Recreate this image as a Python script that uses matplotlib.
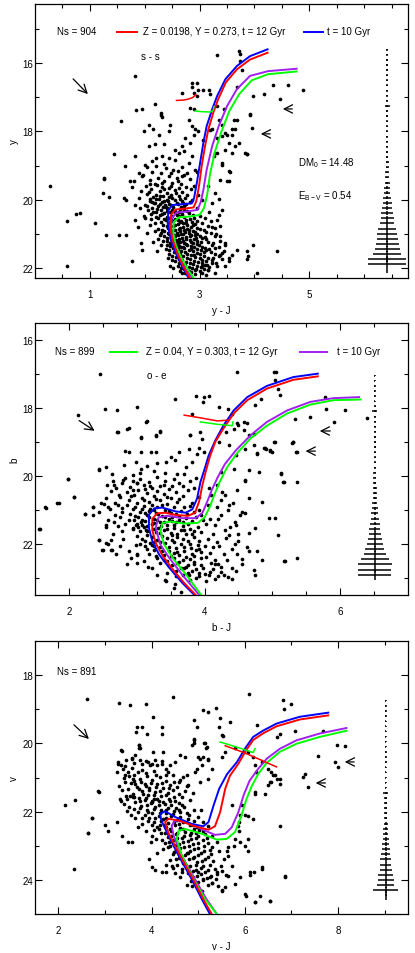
import numpy as np
import matplotlib
matplotlib.use("Agg")
import matplotlib.pyplot as plt

plt.rcParams['font.family'] = ['Liberation Sans', 'DejaVu Sans']
plt.rcParams['mathtext.default'] = 'regular'

# ---------------- panel 1 : y vs y-J ----------------
p1_field = [
    (0.27, 19.59), (0.59, 20.62), (0.74, 20.42), (0.82, 20.39), (1.10, 20.69), (1.25, 19.39), (1.24, 19.80),
    (1.35, 19.93), (1.30, 21.03), (1.53, 21.03), (1.65, 21.03), (1.44, 18.66), (1.56, 17.68), (1.64, 19.02),
    (1.77, 21.81), (0.58, 21.96), (1.62, 19.95), (1.65, 20.00), (1.73, 19.44), (1.80, 19.44), (1.77, 19.63),
    (1.83, 20.15), (1.83, 20.59), (1.89, 19.21), (1.95, 19.31), (1.94, 21.27), (1.95, 21.47), (1.99, 17.99),
    (2.07, 17.82), (2.16, 17.94), (2.26, 18.09), (2.30, 17.53), (2.47, 17.82), (2.45, 17.99), (2.07, 18.43),
    (2.19, 18.38), (2.35, 18.38), (2.32, 18.72), (2.13, 18.87), (1.83, 18.72), (2.01, 18.97), (2.44, 18.77),
    (2.56, 18.53), (2.62, 18.63), (2.68, 18.43), (2.80, 17.65), (2.86, 17.84), (2.83, 18.33), (2.92, 17.94),
    (2.89, 18.09), (2.98, 17.99), (2.74, 18.19), (2.71, 18.58), (2.86, 18.72), (2.80, 18.92), (2.92, 19.12),
    (2.77, 19.21), (2.68, 19.31), (3.23, 17.94), (3.32, 18.19), (3.41, 18.14), (3.50, 18.09), (3.59, 17.94),
    (3.65, 17.94), (3.53, 18.33), (3.62, 17.67), (3.71, 18.33), (3.92, 17.53), (3.95, 17.89), (3.82, 18.63),
    (3.59, 18.63), (3.47, 18.53), (3.29, 18.63), (3.41, 18.92), (3.53, 19.17), (3.38, 19.41), (3.50, 19.46),
    (3.16, 19.61), (3.29, 19.80), (3.23, 20.10), (3.35, 19.99), (3.41, 20.29), (3.32, 20.59), (3.38, 20.78),
    (3.29, 21.08), (3.47, 21.32), (3.41, 21.57), (3.59, 21.62), (3.68, 21.47), (3.86, 21.52), (3.98, 21.32),
    (3.89, 21.66), (4.41, 21.52), (4.04, 22.16), (3.53, 21.81), (3.47, 21.96), (3.16, 22.06), (3.29, 22.16),
    (3.04, 21.96), (2.92, 22.06), (2.50, 21.76), (2.47, 21.96), (2.68, 22.16), (3.13, 21.91), (3.35, 21.66),
    (3.23, 21.76), (1.82, 16.37), (1.85, 17.37), (1.95, 17.33), (2.19, 17.19), (2.29, 17.45), (2.32, 17.57),
    (2.68, 16.86), (2.86, 16.71), (2.95, 16.57), (2.86, 16.57), (2.89, 16.86), (2.98, 16.77), (2.95, 16.96),
    (2.82, 17.30), (2.89, 17.35), (3.07, 16.79), (3.18, 16.78), (3.19, 16.91), (3.32, 15.76), (3.72, 15.64),
    (3.73, 15.74), (3.74, 15.93), (3.77, 16.20), (3.68, 16.69), (3.98, 16.96), (4.18, 16.89), (4.33, 16.65),
    (4.47, 17.04), (4.62, 16.65), (4.89, 16.78), (3.92, 17.50), (3.68, 17.65), (3.59, 18.09), (3.47, 18.04),
    (3.26, 18.73), (3.07, 18.24), (3.19, 17.95), (3.35, 17.65), (3.41, 17.80), (3.44, 17.35), (3.32, 17.25),
    (3.86, 18.65), (3.65, 18.43), (3.53, 19.44), (3.56, 19.18), (3.41, 18.97), (3.31, 18.63), (3.86, 18.67),
    (3.86, 21.73), (3.53, 21.70), (3.38, 21.62), (3.47, 21.27), (3.38, 21.08), (3.29, 20.84), (1.26, 19.38),
]
p1_core = [
    (2.05, 19.05), (2.21, 19.02), (2.38, 19.08), (2.52, 19.12), (2.14, 19.18), (2.30, 19.22), (2.61, 19.15),
    (1.97, 19.27), (2.45, 19.30), (2.72, 19.28), (2.24, 19.36), (2.58, 19.38), (2.09, 19.42), (2.36, 19.45),
    (2.83, 19.40), (2.50, 19.50), (2.18, 19.53), (2.66, 19.55), (2.02, 19.60), (2.31, 19.62), (2.44, 19.66),
    (2.76, 19.63), (2.12, 19.70), (2.55, 19.72), (2.27, 19.76), (2.68, 19.78), (2.40, 19.80), (1.93, 19.74),
    (2.85, 19.70), (2.20, 19.85), (2.05, 19.83), (2.33, 19.88), (2.48, 19.86), (2.62, 19.90), (2.15, 19.93),
    (2.74, 19.95), (2.26, 19.97), (2.40, 20.00), (2.55, 20.02), (2.09, 20.04), (2.68, 20.05), (2.32, 20.08),
    (2.82, 20.07), (2.19, 20.11), (2.45, 20.12), (2.60, 20.14), (2.00, 20.15), (2.37, 20.17), (2.25, 20.20),
    (2.72, 20.19), (2.52, 20.22), (2.13, 20.24), (2.41, 20.26), (2.64, 20.27), (2.30, 20.30), (2.06, 20.31),
    (2.56, 20.33), (2.20, 20.35), (2.78, 20.34), (2.46, 20.37), (2.35, 20.40), (2.68, 20.41), (2.12, 20.43),
    (2.58, 20.45), (2.28, 20.46), (2.50, 20.48), (2.88, 20.44), (2.40, 20.50), (1.98, 20.47), (2.72, 20.52),
    (2.17, 20.09), (2.50, 19.96), (2.87, 20.00), (2.28, 19.90), (2.62, 20.36), (2.43, 20.05), (2.95, 20.25),
    (2.10, 19.97), (2.34, 20.22), (2.70, 20.11), (2.25, 20.55), (2.55, 20.56), (2.82, 20.58), (2.38, 20.60),
    (2.67, 20.62), (2.96, 20.63), (2.47, 20.66), (2.18, 20.68), (2.75, 20.69), (3.05, 20.70), (2.60, 20.72),
    (2.33, 20.74), (2.88, 20.75), (2.52, 20.78), (3.15, 20.77), (2.70, 20.80), (2.42, 20.82), (2.95, 20.83),
    (2.24, 20.85), (2.62, 20.86), (2.80, 20.88), (3.08, 20.90), (2.50, 20.91), (2.36, 20.93), (2.73, 20.95),
    (2.92, 20.96), (2.58, 20.98), (3.20, 20.99), (2.45, 21.01), (2.66, 21.02), (2.84, 21.04), (2.28, 21.05),
    (3.00, 21.06), (2.55, 21.08), (2.76, 21.10), (2.40, 21.12), (2.93, 21.13), (2.63, 21.15), (3.12, 21.16),
    (2.50, 21.18), (2.82, 21.19), (2.70, 21.21), (2.34, 21.22), (3.03, 21.23), (2.58, 21.25), (2.88, 21.27),
    (2.46, 21.28), (2.75, 21.30), (3.25, 21.26), (2.64, 20.65), (2.44, 20.71), (2.86, 20.67), (2.71, 20.90),
    (2.53, 21.05), (2.95, 21.00), (2.60, 21.28), (2.30, 20.97), (2.78, 20.74), (3.10, 21.10), (2.48, 20.58),
    (2.40, 21.33), (2.62, 21.35), (2.85, 21.36), (3.05, 21.38), (2.52, 21.41), (2.72, 21.43), (2.95, 21.44),
    (3.18, 21.46), (2.45, 21.49), (2.66, 21.51), (2.88, 21.52), (3.08, 21.55), (2.58, 21.57), (2.78, 21.59),
    (3.00, 21.61), (3.28, 21.60), (2.50, 21.64), (2.70, 21.66), (2.92, 21.68), (3.15, 21.70), (2.62, 21.73),
    (2.83, 21.74), (3.05, 21.77), (2.55, 21.80), (2.75, 21.82), (2.97, 21.84), (3.22, 21.85), (2.68, 21.88),
    (2.88, 21.90), (3.10, 21.92), (2.60, 21.95), (2.80, 21.97), (3.02, 21.99), (2.72, 22.03), (2.93, 22.05),
    (3.15, 22.06), (2.65, 22.10), (2.85, 22.12), (3.05, 22.15), (2.77, 22.18), (3.35, 21.40), (3.40, 21.75),
    (2.42, 21.70), (2.99, 21.34), (3.12, 21.48), (2.80, 21.47), (3.32, 21.95), (2.52, 22.00), (2.90, 21.62),
    (2.70, 21.40), (2.22, 19.58), (2.48, 19.60), (2.63, 19.67), (2.35, 19.70), (2.08, 19.78), (2.57, 19.82),
    (2.78, 19.85), (2.44, 19.92), (2.20, 19.99), (2.65, 19.99), (2.36, 20.03), (2.13, 20.06), (2.58, 20.09),
    (2.27, 20.13), (2.76, 20.13), (2.48, 20.15), (2.04, 20.19), (2.66, 20.21), (2.38, 20.23), (2.22, 20.28),
    (2.49, 20.29), (2.71, 20.30), (2.15, 20.37), (2.40, 20.33), (2.55, 20.40), (2.32, 20.43), (2.80, 20.40),
    (2.63, 20.48), (2.20, 20.50), (2.45, 20.53), (2.35, 20.57), (2.60, 20.59), (2.90, 20.55), (2.75, 20.60),
    (2.52, 20.64), (2.30, 20.65), (2.70, 20.68), (2.92, 20.72), (2.56, 20.75), (2.40, 20.78), (2.84, 20.80),
    (2.65, 20.82), (3.00, 20.85), (2.47, 20.86), (2.77, 20.87), (2.55, 20.89), (2.32, 20.89), (2.88, 20.92),
    (2.64, 20.93), (3.12, 20.95), (2.42, 20.97), (2.80, 20.99), (2.50, 21.00), (2.70, 21.00), (2.92, 21.03),
    (2.60, 21.05), (2.36, 21.08), (2.82, 21.08), (3.05, 21.12), (2.68, 21.12), (2.48, 21.14), (2.90, 21.16),
    (2.57, 21.18), (2.76, 21.17), (2.40, 21.20), (2.96, 21.20), (2.65, 21.23), (2.84, 21.24), (3.15, 21.25),
    (2.52, 21.26), (2.72, 21.27), (2.95, 21.30), (2.57, 21.32), (2.78, 21.32), (3.22, 21.33), (2.47, 21.37),
    (2.67, 21.38), (2.90, 21.39), (3.10, 21.41), (2.60, 21.44), (2.84, 21.45), (3.03, 21.47), (2.53, 21.53),
    (2.73, 21.54), (2.95, 21.56), (3.20, 21.53), (2.64, 21.61), (2.85, 21.63), (3.08, 21.64), (2.57, 21.69),
    (2.77, 21.70), (3.00, 21.72), (3.25, 21.72), (2.68, 21.77), (2.90, 21.79), (3.12, 21.80), (2.62, 21.86),
    (2.82, 21.86), (3.05, 21.87), (2.74, 21.93), (2.95, 21.95), (3.18, 21.97), (2.67, 22.00), (2.87, 22.02),
    (3.08, 22.03), (2.80, 22.08), (3.00, 22.10), (2.73, 22.14), (2.92, 22.18), (3.12, 22.20), (2.58, 21.52),
    (2.45, 21.60), (3.28, 21.42), (3.38, 21.22), (3.45, 21.50), (3.30, 21.85), (2.38, 21.45), (2.30, 21.32),
    (2.25, 21.15), (2.18, 20.92), (2.10, 20.75), (2.12, 20.58), (1.92, 20.25), (1.90, 19.95), (2.00, 20.55),
    (1.88, 20.80), (2.05, 20.98), (2.15, 21.25), (2.22, 21.50), (3.00, 20.48), (3.10, 20.55), (3.20, 20.62),
    (3.22, 20.80), (3.30, 21.00), (3.35, 20.45), (3.18, 20.35), (2.98, 19.85), (3.05, 20.00), (2.90, 19.60),
    (2.95, 19.20), (2.60, 19.45), (2.32, 19.50), (2.10, 19.55), (2.48, 19.22), (2.68, 19.05), (2.35, 18.95),
    (2.20, 18.78), (2.55, 18.85),
]
p1_blue = [(4.24, 15.59), (3.92, 15.79), (3.68, 16.08), (3.47, 16.47), (3.32, 16.96), (3.23, 17.35),
           (3.13, 17.84), (3.07, 18.33), (3.01, 18.92), (2.95, 19.51), (2.90, 19.95), (2.86, 20.11),
           (2.65, 20.14), (2.50, 20.16), (2.43, 20.32), (2.42, 20.70), (2.47, 21.15), (2.56, 21.55),
           (2.68, 21.95), (2.80, 22.30)]
p1_red = [(4.24, 15.69), (3.92, 15.89), (3.68, 16.18), (3.48, 16.56), (3.34, 17.05), (3.25, 17.45),
          (3.16, 17.94), (3.10, 18.43), (3.04, 19.00), (2.99, 19.60), (2.94, 20.05), (2.89, 20.23),
          (2.70, 20.27), (2.56, 20.29), (2.48, 20.44), (2.46, 20.80), (2.51, 21.20), (2.60, 21.60),
          (2.71, 21.98), (2.82, 22.30)]
p1_purple = [(4.77, 16.16), (4.25, 16.23), (3.92, 16.37), (3.68, 16.76), (3.50, 17.26), (3.35, 17.84),
             (3.23, 18.43), (3.13, 19.12), (3.07, 19.71), (3.02, 20.08), (2.96, 20.30), (2.77, 20.35),
             (2.58, 20.38), (2.49, 20.55), (2.48, 20.95), (2.53, 21.30), (2.63, 21.70), (2.75, 22.05),
             (2.86, 22.30)]
p1_green = [(4.77, 16.24), (4.25, 16.32), (3.95, 16.50), (3.72, 16.91), (3.54, 17.41), (3.40, 18.00),
            (3.28, 18.59), (3.19, 19.26), (3.14, 19.85), (3.08, 20.25), (3.00, 20.45), (2.80, 20.50),
            (2.62, 20.52), (2.53, 20.66), (2.52, 20.98), (2.57, 21.35), (2.67, 21.72), (2.79, 22.05),
            (2.89, 22.30)]
p1_hb_red = [(2.58, 17.09), (2.70, 17.08), (2.80, 17.05), (2.88, 17.00), (2.93, 16.92)]
p1_hb_green = [(2.92, 17.40), (3.05, 17.42), (3.20, 17.43), (3.25, 17.38), (3.26, 17.28)]
# (mag, colour error, mag error)
p1_err = [(15.60, 0.012, 0.02), (15.75, 0.012, 0.02), (15.90, 0.012, 0.02), (16.05, 0.012, 0.02),
          (16.20, 0.012, 0.02), (16.35, 0.012, 0.02), (16.50, 0.012, 0.02), (16.65, 0.012, 0.02),
          (16.80, 0.012, 0.02), (16.95, 0.012, 0.02), (17.10, 0.015, 0.02), (17.25, 0.045, 0.03),
          (17.40, 0.015, 0.02), (17.55, 0.015, 0.02), (17.70, 0.015, 0.02), (17.85, 0.018, 0.02),
          (18.00, 0.018, 0.02), (18.15, 0.018, 0.02), (18.30, 0.020, 0.02), (18.45, 0.020, 0.02),
          (18.60, 0.022, 0.02), (18.75, 0.024, 0.02), (18.90, 0.026, 0.02), (19.05, 0.028, 0.02),
          (19.20, 0.032, 0.02), (19.35, 0.040, 0.025), (19.50, 0.045, 0.03), (19.65, 0.050, 0.035),
          (19.80, 0.060, 0.04), (19.95, 0.070, 0.045), (20.10, 0.080, 0.05), (20.25, 0.095, 0.055),
          (20.40, 0.105, 0.06), (20.55, 0.120, 0.065), (20.70, 0.130, 0.07), (20.85, 0.160, 0.075),
          (21.00, 0.180, 0.08), (21.15, 0.190, 0.08), (21.30, 0.210, 0.08), (21.45, 0.230, 0.08),
          (21.60, 0.250, 0.08), (21.75, 0.350, 0.08), (21.90, 0.350, 0.25)]

# ---------------- panel 2 : b vs b-J ----------------
p2_field = [
    (1.98, 20.10), (2.08, 20.63), (1.83, 20.80), (1.66, 20.93), (1.56, 21.56), (2.23, 21.12), (2.36, 20.90),
    (2.44, 19.81), (2.54, 19.73), (2.64, 19.93), (2.56, 20.27), (2.67, 20.27), (2.71, 18.71), (2.83, 19.25),
    (2.89, 19.29), (2.81, 19.68), (2.80, 20.12), (2.86, 18.61), (3.13, 18.42), (3.06, 18.86), (3.06, 19.29),
    (3.21, 19.29), (3.28, 19.29), (3.28, 18.81), (3.34, 18.69), (3.78, 18.79), (3.94, 18.71), (3.96, 18.90),
    (3.77, 19.20), (3.89, 19.34), (3.82, 19.59), (3.72, 19.73), (3.62, 19.29), (3.57, 19.54), (3.50, 19.44),
    (3.43, 19.59), (3.70, 19.93), (3.87, 20.07), (2.99, 19.59), (3.06, 19.78), (2.94, 19.98), (3.01, 20.22),
    (2.74, 20.56), (2.72, 20.85), (2.79, 21.05), (2.47, 20.80), (2.52, 20.83), (2.57, 20.90), (2.45, 21.05),
    (2.35, 21.14), (2.54, 21.44), (2.67, 21.34), (2.96, 21.29), (2.99, 21.44), (3.08, 21.44), (2.94, 21.53),
    (3.13, 21.58), (2.45, 21.87), (2.54, 21.97), (2.64, 22.17), (2.49, 22.17), (3.01, 22.31), (2.99, 22.02),
    (3.11, 22.51), (3.52, 21.73), (3.23, 22.02), (4.21, 19.00), (4.31, 18.71), (4.43, 18.61), (4.50, 18.51),
    (4.58, 18.42), (4.36, 19.10), (4.46, 19.39), (4.60, 19.20), (4.73, 18.76), (4.77, 19.34), (4.65, 19.83),
    (4.80, 19.88), (4.60, 20.12), (4.43, 19.78), (4.24, 19.88), (4.19, 20.27), (4.06, 20.36), (4.26, 20.46),
    (4.36, 20.85), (4.65, 20.66), (4.85, 20.75), (5.02, 19.00), (4.90, 19.20), (4.97, 19.25), (5.12, 19.93),
    (5.17, 20.17), (5.29, 19.02), (5.36, 20.17), (4.53, 21.14), (4.46, 21.44), (4.36, 21.73), (4.65, 21.68),
    (4.75, 21.53), (4.95, 21.24), (5.04, 21.24), (5.09, 21.73), (4.65, 22.22), (4.77, 22.22), (4.85, 22.46),
    (4.55, 22.60), (4.46, 22.80), (4.73, 22.75), (4.75, 22.90), (4.28, 22.90), (4.41, 23.04), (4.33, 22.46),
    (5.19, 22.51), (4.16, 22.60), (4.06, 22.90), (3.92, 22.85), (3.77, 22.90), (3.70, 22.70), (3.57, 23.19),
    (3.43, 23.09), (3.65, 23.40), (2.46, 16.99), (2.53, 18.02), (2.71, 18.07), (3.00, 17.97), (2.14, 18.21),
    (3.15, 18.39), (2.89, 18.60), (2.72, 18.70), (3.06, 18.88), (3.28, 18.80), (3.35, 18.70), (3.57, 17.73),
    (3.88, 17.65), (3.99, 17.69), (4.06, 17.65), (3.98, 17.82), (3.82, 18.18), (3.79, 18.80), (3.92, 19.19),
    (3.99, 19.30), (4.21, 17.97), (4.35, 18.02), (4.40, 18.19), (4.48, 16.93), (4.48, 18.43), (4.58, 18.65),
    (4.63, 18.43), (4.65, 18.80), (4.73, 19.09), (4.83, 17.73), (4.75, 17.92), (5.02, 16.93), (5.06, 16.93),
    (5.04, 17.19), (5.09, 17.43), (5.11, 17.63), (4.87, 19.19), (4.97, 19.24), (5.04, 19.00), (5.34, 18.31),
    (5.56, 18.26), (5.78, 17.68), (5.91, 18.41), (5.79, 18.02), (6.07, 18.05), (5.31, 19.00), (5.36, 19.29),
    (6.39, 18.29), (1.58, 21.55), (1.65, 20.92), (1.85, 20.80), (1.98, 20.08), (2.08, 20.62), (2.23, 21.11),
    (2.35, 20.91), (2.44, 19.80), (2.45, 21.87), (2.50, 22.19), (2.57, 22.00), (2.62, 22.19), (3.00, 22.30),
    (3.01, 22.55), (3.16, 22.69), (3.55, 23.28), (5.17, 22.50), (5.36, 22.42), (5.12, 19.92), (5.16, 20.17),
    (4.59, 20.14), (4.48, 20.41), (4.78, 19.33), (4.89, 19.19), (5.00, 19.29), (5.30, 18.99), (5.35, 19.29),
]
p2_core = [
    (2.82, 20.05), (3.05, 20.08), (3.30, 20.03), (3.55, 20.10), (2.95, 20.15), (3.18, 20.18), (3.42, 20.14),
    (2.78, 20.22), (3.10, 20.25), (3.35, 20.28), (3.62, 20.22), (2.90, 20.32), (3.22, 20.34), (3.48, 20.37),
    (3.02, 20.41), (3.30, 20.44), (2.85, 20.47), (3.58, 20.46), (3.15, 20.50), (3.40, 20.53), (2.96, 20.57),
    (3.25, 20.60), (3.68, 20.58), (3.08, 20.64), (3.50, 20.66), (2.88, 20.70), (3.34, 20.72), (3.18, 20.77),
    (3.60, 20.76), (3.00, 20.80), (3.44, 20.82), (2.75, 20.62), (3.75, 20.40), (3.12, 20.38), (2.70, 20.35),
    (2.85, 20.86), (3.10, 20.88), (3.30, 20.90), (3.55, 20.92), (3.78, 20.87), (2.95, 20.96), (3.20, 20.98),
    (3.42, 21.00), (3.66, 21.02), (3.05, 21.05), (3.28, 21.08), (3.50, 21.10), (3.85, 21.06), (2.90, 21.12),
    (3.15, 21.15), (3.38, 21.17), (3.62, 21.19), (3.95, 21.16), (3.02, 21.22), (3.25, 21.25), (3.47, 21.27),
    (3.72, 21.24), (2.88, 21.30), (3.12, 21.32), (3.35, 21.34), (3.58, 21.36), (3.82, 21.33), (3.00, 21.40),
    (3.22, 21.42), (3.45, 21.44), (3.68, 21.46), (4.02, 21.42), (3.10, 21.50), (3.32, 21.52), (3.55, 21.54),
    (3.78, 21.56), (2.95, 21.57), (3.40, 21.60), (3.62, 21.28), (3.18, 21.03), (3.52, 21.21), (3.36, 21.47),
    (3.90, 21.50), (3.06, 21.36), (3.74, 21.12), (3.05, 21.63), (3.28, 21.65), (3.50, 21.67), (3.72, 21.70),
    (3.95, 21.66), (3.15, 21.74), (3.38, 21.76), (3.60, 21.78), (3.85, 21.80), (3.08, 21.85), (3.30, 21.87),
    (3.52, 21.89), (3.75, 21.91), (4.05, 21.86), (3.20, 21.96), (3.42, 21.98), (3.65, 22.00), (3.90, 22.02),
    (3.12, 22.07), (3.35, 22.09), (3.58, 22.11), (3.80, 22.13), (4.12, 22.08), (3.25, 22.18), (3.48, 22.20),
    (3.70, 22.22), (3.95, 22.24), (3.18, 22.29), (3.40, 22.31), (3.62, 22.33), (3.85, 22.35), (3.30, 22.40),
    (3.55, 22.42), (3.78, 22.44), (4.02, 22.38), (3.45, 22.50), (3.68, 22.48), (3.92, 22.15), (3.25, 21.93),
    (3.70, 21.60), (4.18, 21.95), (3.55, 22.27), (3.35, 22.55), (3.60, 22.57), (3.85, 22.59), (4.10, 22.55),
    (3.48, 22.65), (3.72, 22.67), (3.98, 22.70), (4.25, 22.68), (3.58, 22.78), (3.82, 22.80), (4.08, 22.82),
    (3.68, 22.92), (3.92, 22.95), (4.20, 22.93), (3.78, 23.05), (4.02, 23.08), (4.35, 22.98), (3.45, 22.85),
    (4.10, 20.55), (4.25, 20.70), (4.35, 21.00), (4.20, 21.25), (4.45, 21.35), (4.30, 21.60), (4.50, 21.90),
    (4.15, 21.45), (4.40, 22.15), (4.28, 22.30), (4.55, 22.45), (4.05, 20.85), (4.60, 21.10), (4.32, 21.82),
    (2.62, 20.45), (2.55, 20.65), (2.60, 20.98), (2.68, 21.15), (2.58, 21.30), (2.72, 21.48), (2.65, 21.70),
    (2.80, 21.85), (2.75, 22.05), (2.88, 22.20), (2.92, 22.42), (2.78, 21.62), (2.82, 21.40), (2.75, 21.20),
    (2.78, 20.95), (2.68, 20.80), (2.92, 20.60), (3.00, 20.22), (3.20, 20.30), (3.40, 20.25), (3.52, 20.30),
    (3.28, 20.68), (3.10, 20.72), (3.45, 20.62), (3.62, 20.68), (3.70, 20.92), (3.22, 20.85), (3.38, 20.85),
    (2.98, 20.90), (3.08, 20.98), (3.25, 21.00), (3.48, 21.04), (3.58, 21.12), (3.12, 21.10), (3.32, 21.13),
    (2.98, 21.18), (3.42, 21.22), (3.18, 21.20), (3.68, 21.35), (3.30, 21.28), (3.52, 21.32), (3.08, 21.28),
    (3.25, 21.38), (3.40, 21.36), (3.15, 21.46), (3.55, 21.45), (3.75, 21.42), (3.02, 21.50), (3.25, 21.55),
    (3.45, 21.55), (3.65, 21.58), (3.85, 21.62), (3.15, 21.62), (3.35, 21.68), (3.60, 21.70), (3.82, 21.72),
    (3.00, 21.75), (3.22, 21.80), (3.45, 21.82), (3.68, 21.85), (3.92, 21.90), (3.12, 21.92), (3.35, 21.95),
    (3.55, 21.95), (3.78, 22.00), (4.00, 22.05), (3.05, 22.00), (3.25, 22.05), (3.48, 22.08), (3.70, 22.10),
    (3.88, 22.18), (3.15, 22.15), (3.38, 22.22), (3.60, 22.24), (3.82, 22.28), (4.08, 22.25), (3.28, 22.34),
    (3.50, 22.36), (3.72, 22.38), (3.95, 22.42), (3.40, 22.46), (3.62, 22.52), (3.85, 22.52), (4.15, 22.48),
    (3.52, 22.62), (3.75, 22.62), (3.95, 22.62), (4.20, 22.58), (3.65, 22.72), (3.88, 22.74), (4.12, 22.74),
    (3.75, 22.85), (4.00, 22.88), (4.25, 22.82), (3.88, 23.00), (4.15, 23.02), (3.58, 22.95), (4.40, 22.70),
    (4.48, 22.30), (4.45, 22.00), (4.38, 21.50), (4.25, 21.15), (4.18, 20.90), (4.30, 20.55), (4.42, 20.80),
    (4.55, 21.05), (4.50, 21.70), (4.62, 22.10), (4.22, 22.05), (4.12, 21.72), (4.08, 21.25), (3.98, 21.28),
    (3.88, 21.20), (3.92, 21.00), (3.82, 20.78), (3.92, 20.62), (3.85, 20.35), (3.68, 20.30), (3.78, 20.15),
    (3.60, 19.95), (3.42, 19.90), (3.25, 19.85), (3.05, 19.92), (3.15, 19.70), (3.30, 19.62), (2.95, 20.40),
    (2.65, 20.15), (2.55, 21.50), (2.62, 21.88), (2.70, 22.30), (2.85, 22.60), (3.22, 22.70), (3.30, 22.90),
    (3.42, 23.05),
]
p2_blue = [(5.67, 16.99), (5.31, 17.09), (4.92, 17.35), (4.63, 17.68), (4.43, 18.07), (4.28, 18.51),
           (4.16, 18.95), (4.06, 19.40), (4.00, 19.80), (3.94, 20.17), (3.89, 20.66), (3.82, 20.98),
           (3.72, 21.08), (3.57, 21.04), (3.38, 20.93), (3.26, 20.95), (3.18, 21.14), (3.18, 21.53),
           (3.23, 21.92), (3.33, 22.31), (3.48, 22.70), (3.67, 23.14), (3.85, 23.50)]
p2_red = [(5.67, 17.07), (5.31, 17.17), (4.92, 17.43), (4.63, 17.77), (4.43, 18.16), (4.28, 18.60),
          (4.16, 18.99), (4.08, 19.42), (4.02, 19.85), (3.97, 20.25), (3.92, 20.75), (3.86, 21.08),
          (3.76, 21.17), (3.58, 21.15), (3.42, 21.08), (3.30, 21.10), (3.23, 21.26), (3.23, 21.60),
          (3.28, 21.97), (3.38, 22.34), (3.52, 22.72), (3.70, 23.15), (3.87, 23.50)]
p2_purple = [(6.28, 17.68), (5.90, 17.71), (5.56, 17.82), (5.22, 18.07), (4.92, 18.41), (4.68, 18.80),
             (4.46, 19.25), (4.30, 19.65), (4.19, 20.05), (4.11, 20.40), (4.04, 20.75), (3.97, 21.08),
             (3.87, 21.24), (3.67, 21.24), (3.45, 21.17), (3.32, 21.22), (3.28, 21.53), (3.35, 22.02),
             (3.48, 22.41), (3.67, 22.90), (3.92, 23.50)]
p2_green = [(6.30, 17.75), (5.90, 17.77), (5.56, 17.90), (5.22, 18.16), (4.92, 18.52), (4.68, 18.89),
            (4.48, 19.33), (4.33, 19.75), (4.23, 20.15), (4.15, 20.52), (4.08, 20.90), (4.00, 21.22),
            (3.90, 21.38), (3.70, 21.40), (3.50, 21.34), (3.38, 21.38), (3.35, 21.62), (3.40, 22.00),
            (3.53, 22.41), (3.72, 22.88), (3.95, 23.50)]
p2_hb_red = [(3.70, 18.21), (3.94, 18.29), (4.19, 18.38), (4.33, 18.36)]
p2_hb_green = [(3.94, 18.41), (4.19, 18.48), (4.41, 18.52), (4.42, 18.41)]
p2_err = [(17.05, 0.010, 0.02), (17.20, 0.010, 0.02), (17.35, 0.010, 0.02), (17.50, 0.010, 0.02),
          (17.65, 0.010, 0.02), (17.80, 0.010, 0.02), (17.95, 0.012, 0.02), (18.10, 0.035, 0.03),
          (18.25, 0.012, 0.02), (18.40, 0.012, 0.02), (18.55, 0.012, 0.02), (18.70, 0.012, 0.02),
          (18.85, 0.014, 0.02), (19.00, 0.014, 0.02), (19.15, 0.014, 0.02), (19.30, 0.016, 0.02),
          (19.45, 0.016, 0.02), (19.60, 0.018, 0.02), (19.75, 0.018, 0.02), (19.90, 0.020, 0.02),
          (20.05, 0.022, 0.02), (20.20, 0.024, 0.025), (20.35, 0.026, 0.025), (20.50, 0.030, 0.03),
          (20.65, 0.033, 0.03), (20.80, 0.038, 0.035), (20.95, 0.045, 0.04), (21.10, 0.055, 0.045),
          (21.25, 0.062, 0.05), (21.40, 0.070, 0.055), (21.55, 0.080, 0.06), (21.70, 0.090, 0.07),
          (21.85, 0.105, 0.075), (22.00, 0.120, 0.08), (22.15, 0.140, 0.08), (22.30, 0.160, 0.08),
          (22.45, 0.210, 0.08), (22.60, 0.250, 0.08), (22.75, 0.245, 0.08), (22.90, 0.245, 0.15)]

# ---------------- panel 3 : v vs v-J ----------------
p3_field = [
    (2.15, 21.80), (2.36, 21.65), (2.33, 23.68), (2.73, 22.19), (2.63, 22.63), (2.86, 21.41), (3.00, 22.39),
    (3.06, 22.56), (3.26, 22.31), (3.28, 20.60), (3.35, 20.20), (3.38, 20.74), (3.36, 22.70), (3.49, 22.88),
    (3.43, 20.94), (3.47, 21.62), (3.58, 20.45), (3.61, 21.58), (3.63, 21.11), (3.65, 20.35), (3.72, 20.06),
    (3.73, 20.15), (3.79, 20.60), (3.97, 20.64), (4.04, 20.25), (4.08, 20.50), (4.25, 20.25), (4.22, 20.60),
    (4.40, 20.64), (4.36, 20.84), (4.50, 20.55), (4.61, 20.35), (4.72, 20.40), (4.86, 20.06), (4.90, 19.91),
    (5.00, 20.40), (5.08, 20.64), (5.15, 20.00), (5.18, 20.10), (5.11, 20.40), (5.22, 20.45), (5.29, 20.74),
    (4.93, 20.84), (4.75, 20.94), (5.22, 21.04), (5.04, 21.13), (4.79, 21.23), (4.58, 21.13), (5.50, 20.40),
    (5.58, 20.25), (5.79, 20.15), (6.07, 20.25), (6.18, 20.40), (6.22, 20.64), (6.25, 20.84), (6.36, 20.55),
    (6.50, 20.74), (6.57, 20.84), (6.57, 21.13), (6.65, 20.94), (6.75, 21.04), (6.50, 21.23), (6.22, 21.48),
    (5.93, 21.82), (5.90, 22.11), (6.00, 22.11), (6.18, 22.21), (5.72, 21.82), (5.86, 22.41), (5.79, 22.80),
    (6.00, 23.00), (6.07, 22.80), (5.65, 23.05), (5.65, 23.29), (5.72, 23.59), (5.50, 23.73), (5.65, 23.88),
    (5.90, 23.93), (5.79, 24.12), (5.43, 24.17), (5.50, 24.32), (5.29, 24.08), (5.25, 23.93), (5.40, 23.83),
    (6.00, 24.42), (6.11, 23.78), (6.36, 23.63), (6.32, 24.47), (6.54, 24.61), (6.22, 24.66), (6.86, 23.88),
    (5.58, 24.22), (5.00, 23.78), (5.11, 23.98), (4.86, 24.17), (5.08, 24.32), (4.65, 23.78), (4.43, 23.59),
    (4.22, 23.78), (4.00, 23.63), (2.61, 18.71), (3.31, 18.81), (3.53, 18.88), (3.88, 18.85), (4.47, 18.64),
    (4.04, 19.22), (4.22, 19.52), (4.22, 19.72), (3.69, 19.51), (3.80, 19.51), (3.66, 19.66), (3.91, 19.72),
    (3.72, 20.06), (3.75, 20.13), (3.36, 20.21), (3.28, 20.55), (3.58, 20.43), (3.42, 20.65), (3.89, 20.53),
    (4.00, 20.60), (4.22, 20.53), (4.90, 19.32), (4.97, 19.51), (5.11, 19.01), (5.22, 19.08), (5.38, 18.96),
    (5.47, 19.25), (5.45, 19.51), (5.50, 19.76), (5.68, 19.37), (5.54, 19.78), (4.90, 19.86), (4.91, 20.00),
    (5.13, 20.00), (5.17, 20.13), (5.22, 20.50), (5.04, 20.45), (4.97, 20.74), (6.08, 18.54), (6.26, 19.47),
    (6.81, 18.74), (6.83, 18.98), (6.98, 18.84), (6.68, 19.81), (6.75, 19.72), (7.08, 19.65), (7.58, 20.36),
    (7.67, 19.65), (7.97, 20.06), (8.14, 20.09), (7.93, 20.55), (8.00, 20.69), (7.30, 20.89), (2.87, 21.43),
    (2.63, 22.63), (2.72, 22.20), (3.36, 21.38), (3.33, 21.63), (3.51, 20.96), (3.53, 21.53), (3.57, 22.88),
    (3.94, 23.38), (4.08, 23.72), (4.32, 23.77), (6.75, 22.41), (6.37, 23.68), (6.20, 23.77), (6.11, 23.87),
    (6.22, 24.66), (6.02, 24.47), (6.54, 24.61), (6.86, 23.93), (7.25, 20.99), (7.36, 21.28), (6.68, 21.04),
    (6.75, 21.19), (6.61, 20.94), (6.54, 21.14), (6.43, 21.48), (6.22, 21.43), (6.07, 22.12), (5.87, 22.56),
    (5.89, 22.90), (5.76, 23.00), (6.07, 23.14), (5.88, 22.31),
]
p3_core = [
    (3.62, 20.92), (3.90, 20.95), (4.18, 20.98), (4.45, 20.94), (3.75, 21.05), (4.02, 21.08), (4.30, 21.10),
    (4.60, 21.06), (3.55, 21.15), (3.85, 21.18), (4.12, 21.20), (4.40, 21.22), (3.68, 21.28), (3.95, 21.30),
    (4.25, 21.32), (4.55, 21.29), (3.80, 21.40), (4.08, 21.42), (4.35, 21.44), (4.72, 21.40), (3.60, 21.48),
    (3.92, 21.52), (4.20, 21.54), (4.48, 21.56), (3.72, 21.60), (4.05, 21.62), (4.65, 21.58), (3.50, 21.35),
    (3.85, 21.66), (4.15, 21.68), (4.40, 21.70), (3.65, 21.73), (3.98, 21.76), (4.28, 21.78), (4.58, 21.75),
    (3.78, 21.84), (4.08, 21.86), (4.35, 21.88), (4.70, 21.85), (3.90, 21.94), (4.20, 21.96), (4.48, 21.98),
    (3.70, 22.00), (4.02, 22.03), (4.32, 22.05), (4.62, 22.02), (3.85, 22.10), (4.15, 22.12), (4.42, 22.14),
    (4.80, 22.10), (3.95, 22.20), (4.25, 22.22), (4.55, 22.24), (4.05, 22.30), (4.35, 22.32), (4.68, 22.30),
    (3.80, 22.35), (4.18, 22.38), (4.50, 22.40), (4.92, 22.28), (4.00, 21.72), (4.52, 21.90), (3.62, 21.92),
    (4.88, 22.40), (4.12, 22.45), (5.05, 21.95), (4.30, 22.46), (4.60, 22.48), (4.90, 22.50), (4.05, 22.55),
    (4.42, 22.57), (4.72, 22.59), (5.02, 22.55), (4.20, 22.64), (4.52, 22.66), (4.82, 22.68), (5.15, 22.65),
    (4.35, 22.74), (4.65, 22.76), (4.95, 22.78), (4.10, 22.80), (4.45, 22.84), (4.78, 22.86), (5.10, 22.84),
    (4.28, 22.92), (4.58, 22.94), (4.88, 22.96), (5.22, 22.92), (4.40, 23.02), (4.70, 23.04), (5.00, 23.06),
    (4.52, 23.12), (4.82, 23.14), (5.12, 23.16), (4.25, 23.10), (5.30, 23.05), (4.62, 22.50), (4.95, 22.62),
    (4.00, 22.70), (4.75, 23.20), (4.45, 23.24), (4.72, 23.26), (5.00, 23.28), (5.28, 23.25), (4.58, 23.35),
    (4.88, 23.37), (5.15, 23.39), (4.40, 23.42), (4.68, 23.46), (4.98, 23.48), (5.32, 23.45), (4.55, 23.56),
    (4.82, 23.58), (5.10, 23.60), (4.65, 23.68), (4.95, 23.70), (5.22, 23.72), (4.78, 23.80), (5.05, 23.82),
    (5.40, 23.78), (4.88, 23.92), (5.18, 23.94), (5.00, 24.05), (5.30, 24.08), (4.75, 24.15), (5.48, 23.60),
    (4.50, 23.80), (3.40, 21.02), (3.30, 21.25), (3.45, 21.55), (3.35, 21.70), (3.52, 21.85), (3.25, 20.85),
    (3.58, 20.72), (3.80, 20.78), (4.05, 20.82), (4.32, 20.75), (3.45, 20.50), (3.62, 20.58), (3.75, 20.50),
    (3.92, 20.55), (4.12, 20.62), (3.35, 20.62), (3.50, 20.85), (3.70, 20.85), (3.88, 20.88), (4.10, 20.92),
    (4.30, 20.92), (3.42, 21.12), (3.60, 21.05), (3.78, 21.12), (3.98, 21.15), (4.22, 21.15), (4.48, 21.12),
    (3.65, 21.20), (3.88, 21.25), (4.10, 21.28), (4.38, 21.30), (3.72, 21.35), (3.95, 21.38), (4.18, 21.40),
    (4.45, 21.38), (3.82, 21.48), (4.05, 21.50), (4.32, 21.52), (4.58, 21.48), (3.62, 21.58), (3.88, 21.60),
    (4.12, 21.62), (4.38, 21.62), (3.75, 21.68), (4.00, 21.70), (4.25, 21.72), (4.50, 21.70), (3.90, 21.80),
    (4.15, 21.82), (4.42, 21.82), (4.65, 21.80), (3.75, 21.90), (4.05, 21.92), (4.30, 21.95), (4.58, 21.94),
    (3.92, 22.02), (4.18, 22.05), (4.45, 22.06), (4.75, 22.04), (3.80, 22.18), (4.08, 22.18), (4.32, 22.18),
    (4.62, 22.15), (3.92, 22.28), (4.20, 22.28), (4.48, 22.30), (4.78, 22.22), (4.02, 22.40), (4.28, 22.40),
    (4.58, 22.36), (4.82, 22.38), (4.15, 22.52), (4.40, 22.52), (4.68, 22.50), (4.98, 22.45), (4.28, 22.62),
    (4.55, 22.62), (4.85, 22.62), (5.10, 22.58), (4.42, 22.70), (4.70, 22.72), (5.00, 22.72), (4.22, 22.82),
    (4.55, 22.78), (4.85, 22.80), (5.18, 22.78), (4.38, 22.88), (4.68, 22.90), (5.00, 22.92), (4.52, 22.98),
    (4.80, 23.00), (5.12, 23.00), (4.35, 23.05), (4.62, 23.08), (4.92, 23.10), (5.25, 23.12), (4.48, 23.18),
    (4.78, 23.20), (5.05, 23.22), (4.60, 23.30), (4.90, 23.32), (5.20, 23.32), (4.52, 23.40), (4.80, 23.40),
    (5.08, 23.45), (4.68, 23.52), (4.95, 23.55), (5.25, 23.55), (4.78, 23.62), (5.05, 23.65), (5.35, 23.68),
    (4.88, 23.75), (5.15, 23.78), (4.98, 23.88), (5.28, 23.88), (5.10, 24.00), (4.85, 24.02), (5.38, 23.98),
    (5.20, 24.15), (4.62, 23.92), (5.55, 23.40), (5.45, 23.15), (5.40, 22.88), (5.30, 22.70), (5.20, 22.42),
    (5.10, 22.30), (5.00, 22.15), (4.90, 21.95), (4.82, 21.65), (4.75, 21.25), (4.68, 20.98), (4.88, 21.45),
    (3.55, 22.10), (3.70, 22.45), (3.88, 22.58), (3.65, 22.20), (3.48, 21.98), (3.40, 21.78), (3.98, 22.90),
    (4.12, 23.20), (4.30, 23.55), (4.45, 23.65), (5.52, 24.30), (5.60, 23.85), (5.62, 23.15),
]
p3_blue = [(7.79, 19.10), (7.18, 19.22), (6.68, 19.42), (6.40, 19.62), (6.18, 19.81), (6.00, 20.16),
           (5.83, 20.55), (5.62, 20.90), (5.45, 21.33), (5.33, 21.82), (5.22, 22.31), (5.11, 22.43),
           (4.86, 22.36), (4.51, 22.16), (4.29, 21.99), (4.18, 22.07), (4.21, 22.26), (4.36, 22.70),
           (4.58, 23.29), (4.86, 23.98), (5.08, 24.57), (5.25, 25.00)]
p3_red = [(7.79, 19.18), (7.18, 19.30), (6.68, 19.50), (6.40, 19.70), (6.18, 19.90), (6.02, 20.22),
          (5.86, 20.60), (5.68, 20.95), (5.58, 21.33), (5.47, 22.02), (5.36, 22.43), (5.22, 22.53),
          (4.93, 22.43), (4.58, 22.26), (4.36, 22.21), (4.29, 22.31), (4.36, 22.62), (4.60, 23.25),
          (4.88, 23.95), (5.11, 24.57), (5.29, 25.00)]
p3_purple = [(8.18, 19.55), (7.61, 19.71), (7.11, 19.91), (6.75, 20.16), (6.47, 20.45), (6.29, 20.74),
             (6.10, 21.10), (5.98, 21.50), (5.86, 22.02), (5.72, 22.46), (5.58, 22.65), (5.36, 22.68),
             (5.15, 22.56), (4.76, 22.31), (4.51, 22.26), (4.43, 22.41), (4.47, 22.70), (4.65, 23.29),
             (4.93, 23.98), (5.18, 24.57), (5.40, 25.00)]
p3_green = [(8.18, 19.63), (7.61, 19.81), (7.11, 20.01), (6.75, 20.25), (6.47, 20.57), (6.29, 20.89),
            (6.15, 21.25), (6.03, 21.65), (5.93, 22.11), (5.79, 22.60), (5.61, 22.80), (5.40, 22.82),
            (5.08, 22.65), (4.72, 22.51), (4.58, 22.56), (4.54, 22.80), (4.65, 23.29), (4.90, 23.98),
            (5.15, 24.57), (5.40, 25.00)]
p3_hb_red = [(5.58, 20.07), (6.00, 20.28), (6.40, 20.52), (6.68, 20.69)]
p3_hb_green = [(5.47, 19.96), (5.83, 20.11), (6.18, 20.27), (6.22, 20.15)]
p3_err = [(18.75, 0.010, 0.02), (18.90, 0.010, 0.02), (19.05, 0.010, 0.02), (19.20, 0.010, 0.02),
          (19.35, 0.010, 0.02), (19.50, 0.010, 0.02), (19.65, 0.010, 0.02), (19.80, 0.012, 0.02),
          (19.95, 0.012, 0.02), (20.10, 0.012, 0.02), (20.25, 0.012, 0.02), (20.40, 0.012, 0.02),
          (20.55, 0.014, 0.02), (20.70, 0.014, 0.02), (20.85, 0.014, 0.02), (21.00, 0.016, 0.02),
          (21.15, 0.016, 0.02), (21.30, 0.018, 0.02), (21.45, 0.050, 0.03), (21.60, 0.028, 0.02),
          (21.75, 0.030, 0.025), (21.90, 0.032, 0.025), (22.05, 0.036, 0.03), (22.20, 0.040, 0.03),
          (22.35, 0.045, 0.035), (22.50, 0.050, 0.04), (22.65, 0.055, 0.045), (22.80, 0.062, 0.05),
          (22.95, 0.070, 0.055), (23.10, 0.085, 0.06), (23.25, 0.100, 0.065), (23.40, 0.110, 0.07),
          (23.55, 0.120, 0.075), (23.70, 0.130, 0.08), (23.85, 0.160, 0.08), (24.00, 0.170, 0.08),
          (24.15, 0.190, 0.08), (24.30, 0.260, 0.08), (24.45, 0.020, 0.15)]

purple = '#a020f0'

panels = [
    dict(field=p1_field, core=p1_core, blue=p1_blue, red=p1_red, purple=p1_purple, green=p1_green,
         hb_red=p1_hb_red, hb_green=p1_hb_green, err=p1_err, err_x=6.42,
         xlim=(0.0, 6.8), ylim=(22.3, 14.26), xmaj=[1, 3, 5], xmin=np.arange(0.5, 6.8, 0.5),
         ymaj=[16, 18, 20, 22], ymin=[15, 17, 19, 21], xlabel='y - J', ylabel='y',
         box=[35, 5, 408, 279]),
    dict(field=p2_field, core=p2_core, blue=p2_blue, red=p2_red, purple=p2_purple, green=p2_green,
         hb_red=p2_hb_red, hb_green=p2_hb_green, err=p2_err, err_x=6.51,
         xlim=(1.5, 7.0), ylim=(23.5, 15.5), xmaj=[2, 4, 6], xmin=np.arange(2.0, 7.0, 0.5),
         ymaj=[16, 18, 20, 22], ymin=[17, 19, 21, 23], xlabel='b - J', ylabel='b',
         box=[35, 324, 408, 596]),
    dict(field=p3_field, core=p3_core, blue=p3_blue, red=p3_red, purple=p3_purple, green=p3_green,
         hb_red=p3_hb_red, hb_green=p3_hb_green, err=p3_err, err_x=9.02,
         xlim=(1.5, 9.5), ylim=(25.0, 17.0), xmaj=[2, 4, 6, 8], xmin=np.arange(2.0, 9.5, 1.0),
         ymaj=[18, 20, 22, 24], ymin=[19, 21, 23], xlabel='v - J', ylabel='v',
         box=[35, 642, 408, 915]),
]

W, H = 415, 954
fig = plt.figure(figsize=(W / 100, H / 100), dpi=100)
fs = 7

axes = []
for p in panels:
    l, t, r, b = p['box']
    ax = fig.add_axes([l / W, 1 - b / H, (r - l) / W, (b - t) / H])
    axes.append(ax)

    stars = np.array(p['field'] + p['core'])
    ax.scatter(stars[:, 0], stars[:, 1], s=7, c='k', marker='o', linewidths=0, zorder=2)

    for key, col in [('purple', purple), ('green', '#00ff00'), ('blue', '#0000ff'), ('red', '#ff0000')]:
        iso = np.array(p[key])
        ax.plot(iso[:, 0], iso[:, 1], color=col, lw=1.4, zorder=3)
    hb = np.array(p['hb_red'])
    ax.plot(hb[:, 0], hb[:, 1], color='#ff0000', lw=1.1, zorder=3)
    hb = np.array(p['hb_green'])
    ax.plot(hb[:, 0], hb[:, 1], color='#00ff00', lw=1.1, zorder=3)

    err = np.array(p['err'])
    ax.errorbar(np.full(len(err), p['err_x']), err[:, 0], xerr=err[:, 1], yerr=err[:, 2],
                fmt='none', ecolor='k', elinewidth=1.1, capsize=0, zorder=2)

    ax.set_xlim(*p['xlim'])
    ax.set_ylim(*p['ylim'])
    ax.set_xticks(p['xmaj'])
    ax.set_xticks(p['xmin'], minor=True)
    ax.set_yticks(p['ymaj'])
    ax.set_yticks(p['ymin'], minor=True)
    ax.tick_params(which='both', direction='in', top=True, right=True, labelsize=fs, width=0.8)
    ax.tick_params(which='major', length=5)
    ax.tick_params(which='minor', length=3)
    ax.tick_params(axis='x', which='major', pad=8)
    ax.tick_params(axis='y', which='major', pad=1.5)
    for s in ax.spines.values():
        s.set_linewidth(0.9)
    ax.set_xlabel(p['xlabel'], fontsize=fs, labelpad=4)
    ax.set_ylabel(p['ylabel'], fontsize=fs, labelpad=2)

arrow = dict(arrowstyle='->', lw=0.9, color='k', mutation_scale=15)

# panel 1 annotations
ax = axes[0]
ax.text(0.059, 0.902, 'Ns = 904', transform=ax.transAxes, fontsize=fs, va='center')
ax.plot([0.220, 0.273], [0.898, 0.898], color='#ff0000', lw=1.4, transform=ax.transAxes)
ax.text(0.290, 0.902, 'Z = 0.0198, Y = 0.273, t = 12 Gyr', transform=ax.transAxes, fontsize=fs, va='center')
ax.plot([0.721, 0.772], [0.898, 0.898], color='#0000ff', lw=1.4, transform=ax.transAxes)
ax.text(0.783, 0.902, 't = 10 Gyr', transform=ax.transAxes, fontsize=fs, va='center')
ax.text(0.284, 0.81, 's - s', transform=ax.transAxes, fontsize=fs, va='center')
ax.text(0.705, 0.423, 'DM$_0$ = 14.48', transform=ax.transAxes, fontsize=fs, va='center')
ax.text(0.705, 0.303, 'E$_{B-V}$ = 0.54', transform=ax.transAxes, fontsize=fs, va='center')
ax.annotate('', xy=(0.147, 0.664), xytext=(0.097, 0.734), xycoords='axes fraction', arrowprops=arrow)
ax.annotate('', xy=(0.657, 0.617), xytext=(0.697, 0.617), xycoords='axes fraction', arrowprops=arrow)
ax.annotate('', xy=(0.598, 0.526), xytext=(0.638, 0.526), xycoords='axes fraction', arrowprops=arrow)

# panel 2 annotations
ax = axes[1]
ax.text(0.054, 0.897, 'Ns = 899', transform=ax.transAxes, fontsize=fs, va='center')
ax.plot([0.201, 0.273], [0.893, 0.893], color='#00ff00', lw=1.4, transform=ax.transAxes)
ax.text(0.298, 0.897, 'Z = 0.04, Y = 0.303, t = 12 Gyr', transform=ax.transAxes, fontsize=fs, va='center')
ax.plot([0.710, 0.783], [0.893, 0.893], color=purple, lw=1.4, transform=ax.transAxes)
ax.text(0.810, 0.897, 't = 10 Gyr', transform=ax.transAxes, fontsize=fs, va='center')
ax.text(0.300, 0.809, 'o - e', transform=ax.transAxes, fontsize=fs, va='center')
ax.annotate('', xy=(0.166, 0.598), xytext=(0.112, 0.647), xycoords='axes fraction', arrowprops=arrow)
ax.annotate('', xy=(0.756, 0.603), xytext=(0.799, 0.603), xycoords='axes fraction', arrowprops=arrow)
ax.annotate('', xy=(0.718, 0.529), xytext=(0.759, 0.529), xycoords='axes fraction', arrowprops=arrow)

# panel 3 annotations
ax = axes[2]
ax.text(0.059, 0.890, 'Ns = 891', transform=ax.transAxes, fontsize=fs, va='center')
ax.annotate('', xy=(0.150, 0.634), xytext=(0.099, 0.700), xycoords='axes fraction', arrowprops=arrow)
ax.annotate('', xy=(0.823, 0.557), xytext=(0.863, 0.557), xycoords='axes fraction', arrowprops=arrow)
ax.annotate('', xy=(0.745, 0.480), xytext=(0.786, 0.480), xycoords='axes fraction', arrowprops=arrow)

fig.savefig('out.png', dpi=100)
